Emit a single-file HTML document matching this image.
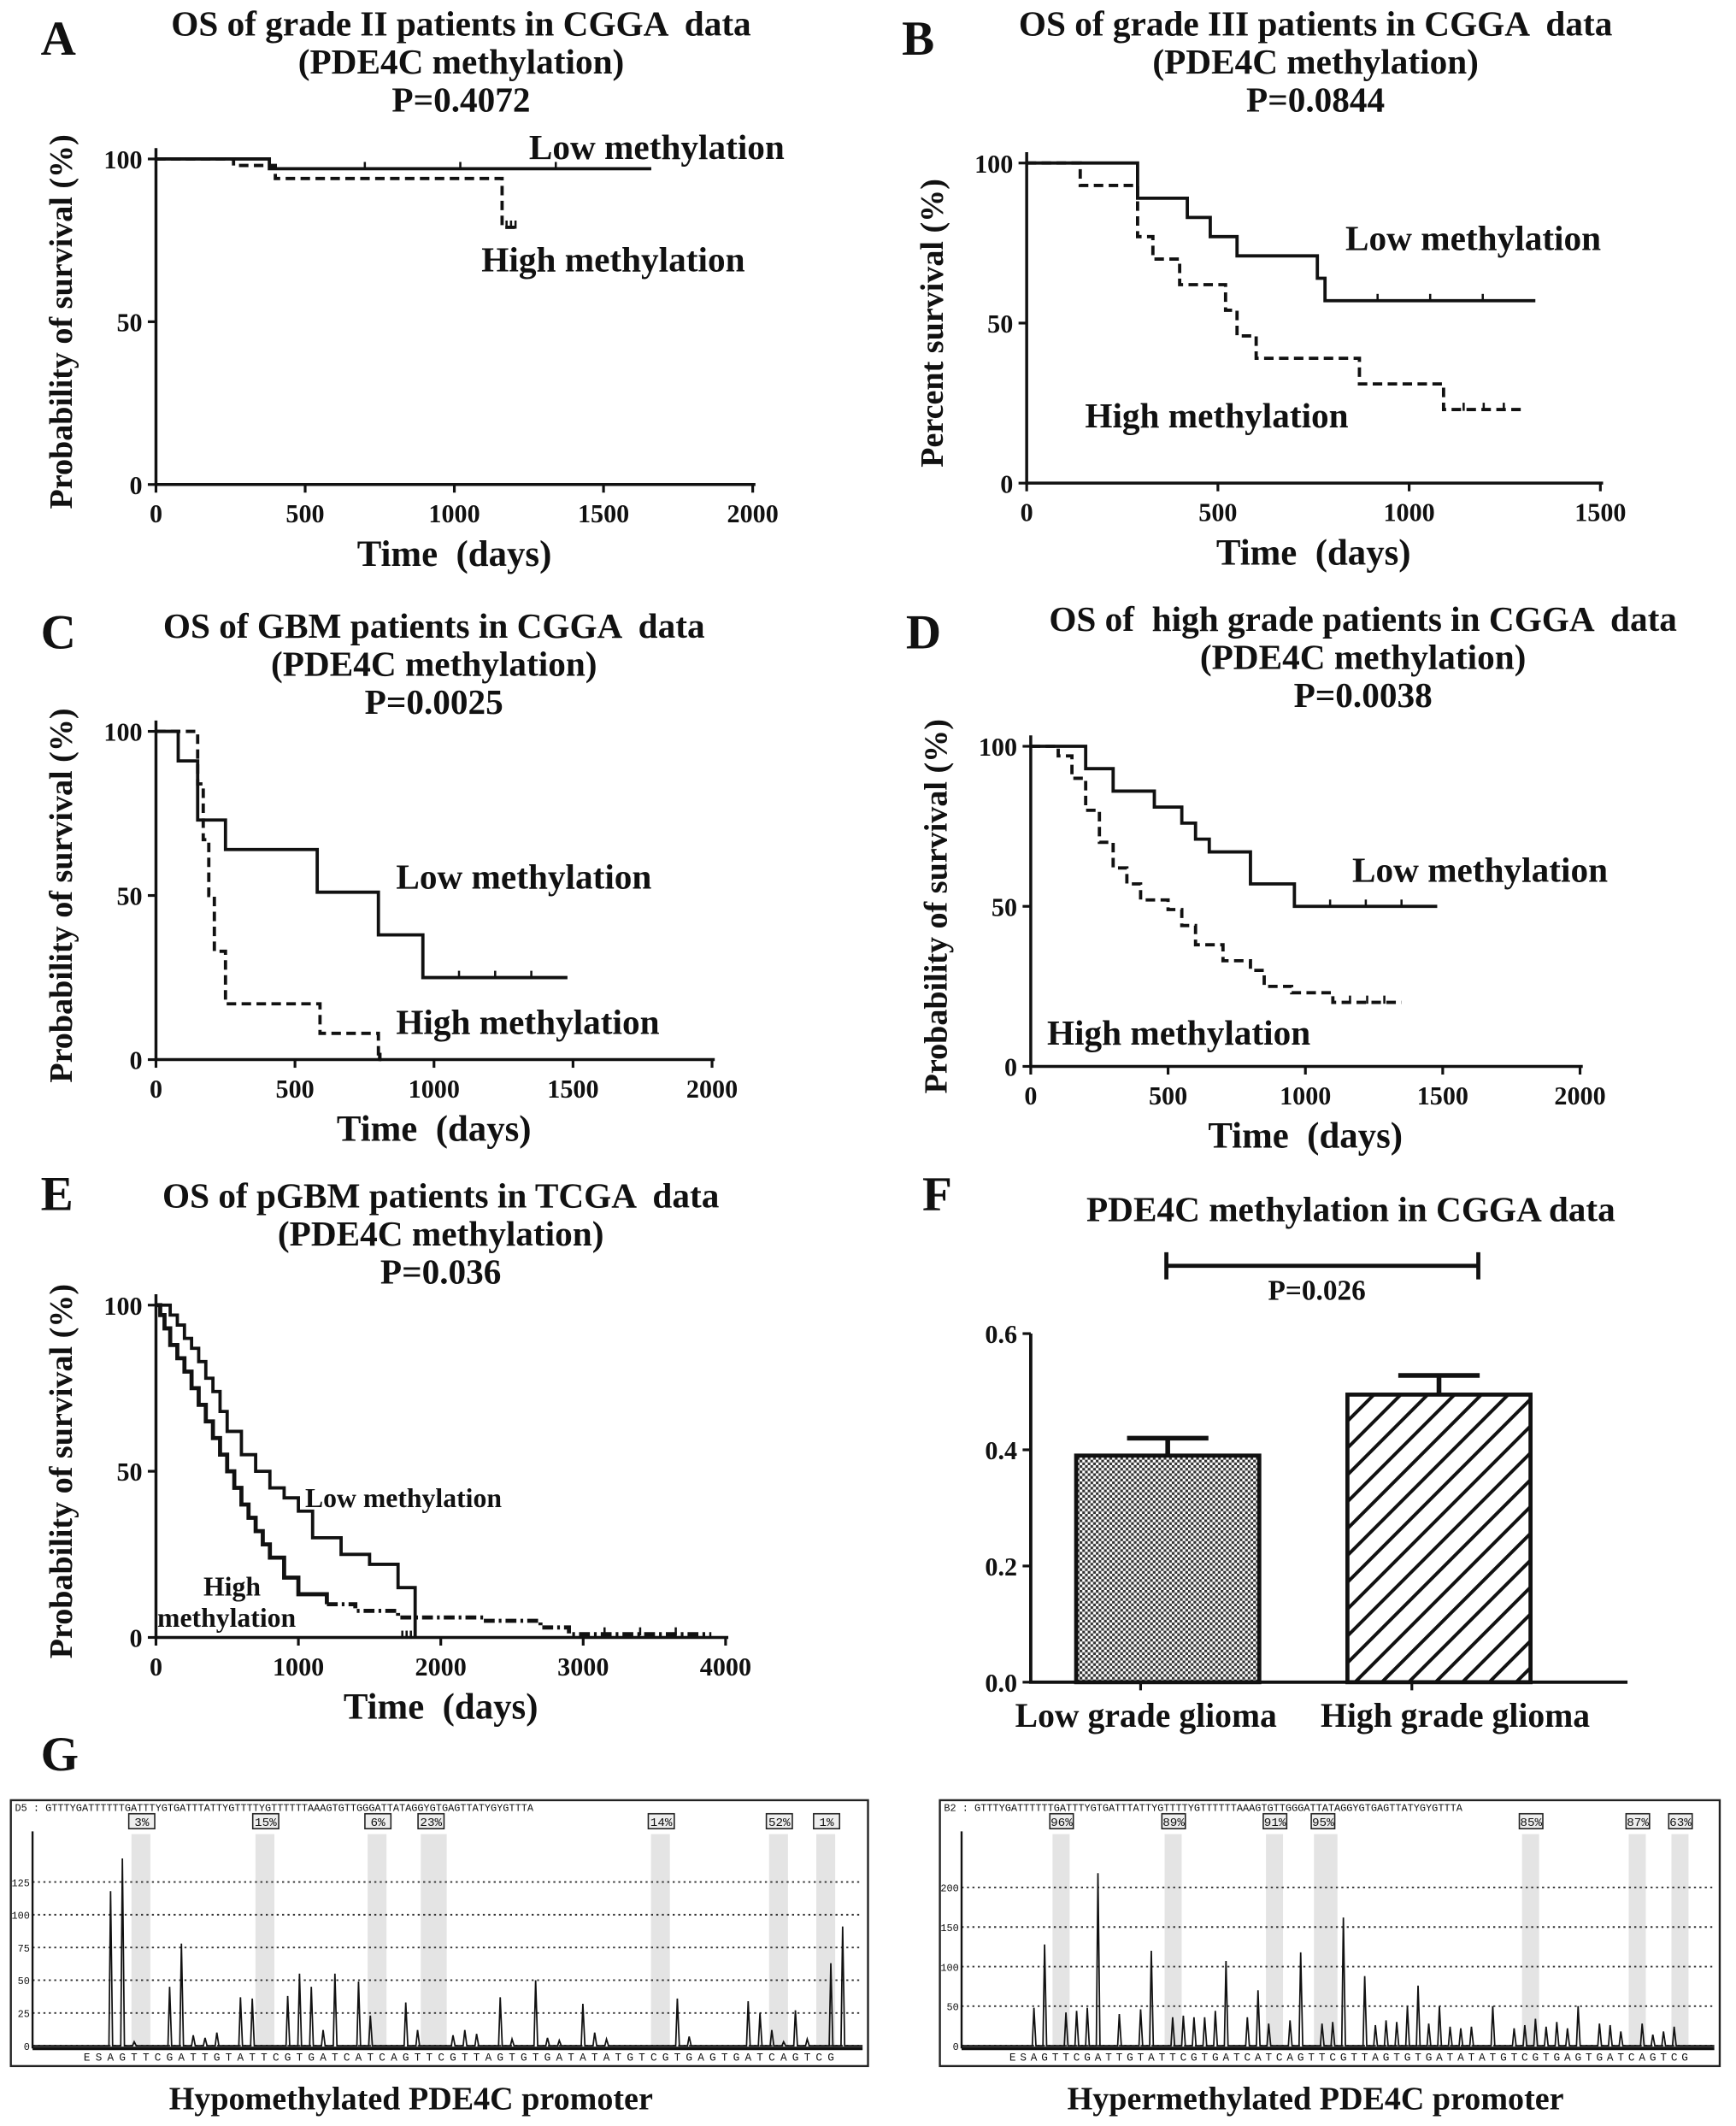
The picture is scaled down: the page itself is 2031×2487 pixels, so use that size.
<!DOCTYPE html>
<html><head><meta charset="utf-8"><style>
html,body{margin:0;padding:0;background:#fff}
svg{display:block}
text{font-family:"Liberation Serif",serif;font-weight:bold;fill:#111;white-space:pre}
.mono{font-family:"Liberation Mono",monospace;font-weight:normal}
</style></head><body>
<svg id="fig" width="2031" height="2487" viewBox="0 0 1280 1567" xmlns="http://www.w3.org/2000/svg">
<defs>
<pattern id="dots" width="4" height="4" patternUnits="userSpaceOnUse"><rect width="4" height="4" fill="#fff"/><rect width="2" height="2" fill="#333"/><rect x="2" y="2" width="2" height="2" fill="#333"/></pattern>
<pattern id="hatch" width="14" height="14" patternUnits="userSpaceOnUse" patternTransform="rotate(45)"><rect width="14" height="14" fill="#fff"/><rect x="0" y="0" width="2.5" height="14" fill="#111"/></pattern>
</defs>
<g id="root"></g>
</svg>
<script>
// ---- data ----
const aLowT=[0,380,1660], aLowS=[100,97,97];
const aHighT=[0,260,400,1150,1160,1220], aHighS=[100,98,94,94,79,79];
const bLowT=[0,290,420,480,550,760,780,1330], bLowS=[100,89,83,77,71,64,57,57];
const bHighT=[0,140,290,330,400,520,550,600,870,1090,1300], bHighS=[100,93,77,70,62,54,46,39,31,23,23];
const cLowT=[0,80,150,250,580,800,960,1480], cLowS=[100,91,73,64,51,38,25,25];
const cHighT=[0,150,170,190,210,250,590,800,810], cHighS=[100,84,67,50,33,17,8,0,0];
const dLowT=[0,200,300,450,550,600,650,800,960,1480], dLowS=[100,93,86,81,76,71,67,57,50,50];
const dHighT=[0,100,150,200,250,300,350,400,500,550,600,700,800,850,950,1100,1350], dHighS=[100,97,90,80,70,62,57,52,49,44,38,33,30,25,23,20,20];
const eLowT=[0,100,150,200,250,300,350,400,450,500,600,700,800,900,1000,1100,1300,1500,1700,1820], eLowS=[100,97,94,90,87,83,78,74,68,62,55,50,45,42,38,30,25,22,15,0];
const eHighT=[0,30,60,100,150,200,250,300,350,400,450,500,550,600,650,700,750,800,900,1000,1200,1400,1700,2000,2300,2700,2900,3900], eHighS=[100,97,93,88,84,80,75,70,65,60,55,50,45,40,36,32,28,24,18,13,10,8,6,6,5,3,1,1];
const fCats=["Low grade glioma","High grade glioma"], fVals=[0.39,0.495], fErr=[0.03,0.033];
const fTicks=["0.0","0.2","0.4","0.6"];
const gLeftPeaks=[0,0,0,0,0,118,143,3,0,0,45,78,8,6,10,0,37,36,0,0,38,55,45,12,55,0,49,23,0,0,33,12,0,0,8,12,9,0,37,5,0,50,6,4,0,32,10,5,0,0,0,0,0,36,7,0,0,0,0,34,25,12,3,27,5,0,63,91];
const gRightPeaks=[0,0,0,0,0,48,128,0,42,44,48,218,0,40,0,46,120,0,36,38,36,36,44,107,0,36,70,28,0,32,118,0,28,30,162,0,88,26,32,30,50,76,28,50,24,22,24,0,50,0,22,26,34,24,30,22,50,0,28,26,18,0,28,14,18,24,0,0];
const gLeftPct=["3%","15%","6%","23%","14%","52%","1%"], gRightPct=["96%","89%","91%","95%","85%","87%","63%"];
const gPctPos=[7,17.5,27,31.5,51,61,65];

const NS="http://www.w3.org/2000/svg";
const root=document.getElementById('root');
function el(tag,attrs,parent){const e=document.createElementNS(NS,tag);for(const k in attrs)e.setAttribute(k,attrs[k]);(parent||root).appendChild(e);return e;}
function txt(x,y,s,size,name,parent,anchor){const t=el('text',{x:x,y:y,'font-size':size,'text-anchor':anchor||'middle'},parent);t.textContent=s;


return t;}

function km(cfg){
  const g=el('g',{});
  
  
  const X=v=>cfg.x0+(cfg.x1-cfg.x0)*v/cfg.xmax, Y=v=>cfg.y0+(cfg.y100-cfg.y0)*v/100;
  el('path',{d:`M${cfg.x0},${cfg.y100-8}V${cfg.y0}H${cfg.x1+2}`,stroke:'#111','stroke-width':2.2,fill:'none'},g);
  [0,50,100].forEach(v=>{el('line',{x1:cfg.x0-6,x2:cfg.x0,y1:Y(v),y2:Y(v),stroke:'#111','stroke-width':2},g);txt(cfg.x0-10,Y(v)+7,String(v),cfg.tick,'y-tick-label',g,'end');});
  cfg.xt.forEach(v=>{el('line',{x1:X(v),x2:X(v),y1:cfg.y0,y2:cfg.y0+6,stroke:'#111','stroke-width':2},g);txt(X(v),cfg.y0+28,String(v),cfg.tick,'x-tick-label',g);});
  txt((cfg.x0+cfg.x1)/2,cfg.y0+60,'Time  (days)',27,'x-axis-title',g);
  const yt=txt(0,0,cfg.ylab,24,'y-axis-title',g);yt.setAttribute('transform',`translate(${cfg.x0-62},${(cfg.y0+cfg.y100)/2}) rotate(-90)`);
  function curve(T,S,dash,nm,w,split,dash2){
    const mk=(a,b)=>{let d=`M${X(T[a])},${Y(S[a])}`;for(let i=a+1;i<=b;i++){d+=`H${X(T[i])}V${Y(S[i])}`;}return d;};
    const n=T.length, s=split?split:n-1;
    const p=el('path',{d:mk(0,s),stroke:'#111','stroke-width':w||2.4,fill:'none','stroke-dasharray':dash||'none'},g);
    
    
    if(split){const q=el('path',{d:mk(s,n-1),stroke:'#111','stroke-width':w||2.4,fill:'none','stroke-dasharray':dash2},g);
      
      }
    const a=X(T[n-2]),b=X(T[n-1]);for(let k=1;k<4;k++){const xx=a+(b-a)*k/4;el('line',{x1:xx,x2:xx,y1:Y(S[n-1])-5,y2:Y(S[n-1])+1,stroke:'#111','stroke-width':1.6},g);}
  }
  curve(cfg.lowT,cfg.lowS,null,'low-methylation-curve');
  curve(cfg.highT,cfg.highS,cfg.highDash||'7,4','high-methylation-curve',cfg.highW,cfg.split,cfg.dash2);
  txt(cfg.letter[1],cfg.letter[2],cfg.letter[0],36,'panel-letter',g,'start');
  cfg.title.forEach((t,i)=>txt(cfg.tx,cfg.ty+i*28,t,26,'panel-title',g));
  cfg.labels.forEach(l=>txt(l[1],l[2],l[0],l[3]||26,'curve-label',g,'start'));
}

km({name:'panel-a',x0:115,x1:555,xmax:2000,y0:357,y100:117,xt:[0,500,1000,1500,2000],tick:19,ylab:'Probability of survival (%)',
 lowT:aLowT,lowS:aLowS,highT:aHighT,highS:aHighS,letter:['A',30,40],tx:340,ty:26,title:['OS of grade II patients in CGGA  data','(PDE4C methylation)','P=0.4072'],
 labels:[['Low methylation',390,117],['High methylation',355,200]]});
km({name:'panel-b',x0:757,x1:1180,xmax:1500,y0:356,y100:120,xt:[0,500,1000,1500],tick:19,ylab:'Percent survival (%)',
 lowT:bLowT,lowS:bLowS,highT:bHighT,highS:bHighS,letter:['B',665,40],tx:970,ty:26,title:['OS of grade III patients in CGGA  data','(PDE4C methylation)','P=0.0844'],
 labels:[['Low methylation',992,184],['High methylation',800,315]]});
km({name:'panel-c',x0:115,x1:525,xmax:2000,y0:781,y100:539,xt:[0,500,1000,1500,2000],tick:19,ylab:'Probability of survival (%)',
 lowT:cLowT,lowS:cLowS,highT:cHighT,highS:cHighS,letter:['C',30,478],tx:320,ty:470,title:['OS of GBM patients in CGGA  data','(PDE4C methylation)','P=0.0025'],
 labels:[['Low methylation',292,655],['High methylation',292,762]]});
km({name:'panel-d',x0:760,x1:1165,xmax:2000,y0:786,y100:550,xt:[0,500,1000,1500,2000],tick:19,ylab:'Probability of survival (%)',
 lowT:dLowT,lowS:dLowS,highT:dHighT,highS:dHighS,letter:['D',668,478],tx:1005,ty:465,title:['OS of  high grade patients in CGGA  data','(PDE4C methylation)','P=0.0038'],
 labels:[['Low methylation',997,650],['High methylation',772,770]]});
km({name:'panel-e',x0:115,x1:535,xmax:4000,y0:1207,y100:962,xt:[0,1000,2000,3000,4000],tick:19,ylab:'Probability of survival (%)',
 lowT:eLowT,lowS:eLowS,highT:eHighT,highS:eHighS,highDash:'none',highW:3,split:20,dash2:'8,3,2,3',letter:['E',30,892],tx:325,ty:890,title:['OS of pGBM patients in TCGA  data','(PDE4C methylation)','P=0.036'],
 labels:[['Low methylation',225,1111,20],['High',150,1176,20],['methylation',116,1199,20]]});

// ---- panel F ----
(function(){
  const g=el('g',{});
  
  
  const x0=760,y0=1240,yTop=983,xr=1200,Y=v=>y0+(yTop-y0)*v/0.6;
  txt(680,892,'F',36,'panel-letter',g,'start');
  txt(996,900,'PDE4C methylation in CGGA data',26,'panel-title',g);
  el('path',{d:'M860,923V943M860,933H1090M1090,923V943',stroke:'#111','stroke-width':3,fill:'none'},g);
  txt(971,958,'P=0.026',21,'p-value',g);
  el('path',{d:`M${x0},${yTop}V${y0}H${xr}`,stroke:'#111','stroke-width':2.4,fill:'none'},g);
  fTicks.forEach(t=>{const v=parseFloat(t);el('line',{x1:x0-6,x2:x0,y1:Y(v),y2:Y(v),stroke:'#111','stroke-width':2},g);txt(x0-10,Y(v)+7,t,19,'y-tick-label',g,'end');});
  const cx=[861,1061],bw=135,lx=[845,1073];
  fCats.forEach((c,i)=>{
    const r=el('rect',{x:cx[i]-bw/2,y:Y(fVals[i]),width:bw,height:y0-Y(fVals[i]),fill:i?'url(#hatch)':'url(#dots)',stroke:'#111','stroke-width':3},g);
    
    
    const ye=Y(fVals[i]+fErr[i]);
    el('path',{d:`M${cx[i]},${Y(fVals[i])}V${ye}M${cx[i]-30},${ye}H${cx[i]+30}`,stroke:'#111','stroke-width':3.5,fill:'none'},g);
    el('line',{x1:cx[i]-20,x2:cx[i]-20,y1:y0,y2:y0+6,stroke:'#111','stroke-width':2},g);
    txt(lx[i],y0+33,c,25,'x-category-label',g);
  });
})();

// ---- panel G ----
function pyro(name,bx,bw,peaks,pct,max,ticks,prefix){
  const g=el('g',{});
  
  
  const by=1327,bh=196, ax=bx+16, base=1508, top=1350, Y=v=>base-(base-top-18)*v/max;
  el('rect',{x:bx,y:by,width:bw,height:bh,fill:'#fff',stroke:'#222','stroke-width':1.5},g);
  const step=(bw-40)/peaks.length, X=i=>ax+14+i*step;
  gPctPos.forEach((p,i)=>{el('rect',{x:X(p)-2,y:1352,width:step*(i==3?2.2:1.6),height:base-1352,fill:'#e4e4e4'},g);
    el('rect',{x:X(p)-4,y:1337,width:step*2.2,height:11,fill:'#eee',stroke:'#222','stroke-width':1},g);
    const t=txt(X(p)-4+step*1.1,1346,pct[i],9,'percent-label',g);t.setAttribute('class','mono');});
  const h=txt(bx+3,1335,prefix+' : GTTTYGATTTTTTGATTTYGTGATTTATTYGTTTTYGTTTTTTAAAGTGTTGGGATTATAGGYGTGAGTTATYGYGTTTA',7.5,'sequence-label',g,'start');h.setAttribute('class','mono');
  ticks.forEach(v=>{el('line',{x1:ax,x2:bx+bw-4,y1:Y(v),y2:Y(v),stroke:'#333','stroke-width':1.2,'stroke-dasharray':'1.5,2.5'},g);
    const t=txt(ax-2,Y(v)+3,String(v),7.5,'y-tick-label',g,'end');t.setAttribute('class','mono');});
  el('line',{x1:ax,x2:ax,y1:top,y2:base+2,stroke:'#111','stroke-width':1.5},g);
  el('line',{x1:ax,x2:bx+bw-4,y1:base+2,y2:base+2,stroke:'#111','stroke-width':2.5},g);
  let d=`M${ax},${base}`;
  peaks.forEach((v,i)=>{const x=X(i);d+=`L${x-1.2},${base}L${x},${Y(v)}L${x+1.5},${base}`;});
  el('path',{d:d+`L${bx+bw-4},${base}`,stroke:'#111','stroke-width':1.1,fill:'none'},g);
  const seq='ESAGTTCGATTGTATTCGTGATCATCAGTTCGTTAGTGTGATATATGTCGTGAGTGATCAGTCG';
  for(let i=0;i<seq.length;i++){const t=txt(X(i+3),base+11,seq[i],8,'dispensation-letter',g);t.setAttribute('class','mono');}
}
pyro('pyrogram-hypomethylated',8,632,gLeftPeaks,gLeftPct,145,[0,25,50,75,100,125],'D5');
pyro('pyrogram-hypermethylated',693,575,gRightPeaks,gRightPct,240,[0,50,100,150,200],'B2');
txt(30,1305,'G',36,'panel-letter',root,'start');
txt(303,1555,'Hypomethylated PDE4C promoter',24,'caption-hypo');
txt(970,1555,'Hypermethylated PDE4C promoter',24,'caption-hyper');
</script>
</body></html>
